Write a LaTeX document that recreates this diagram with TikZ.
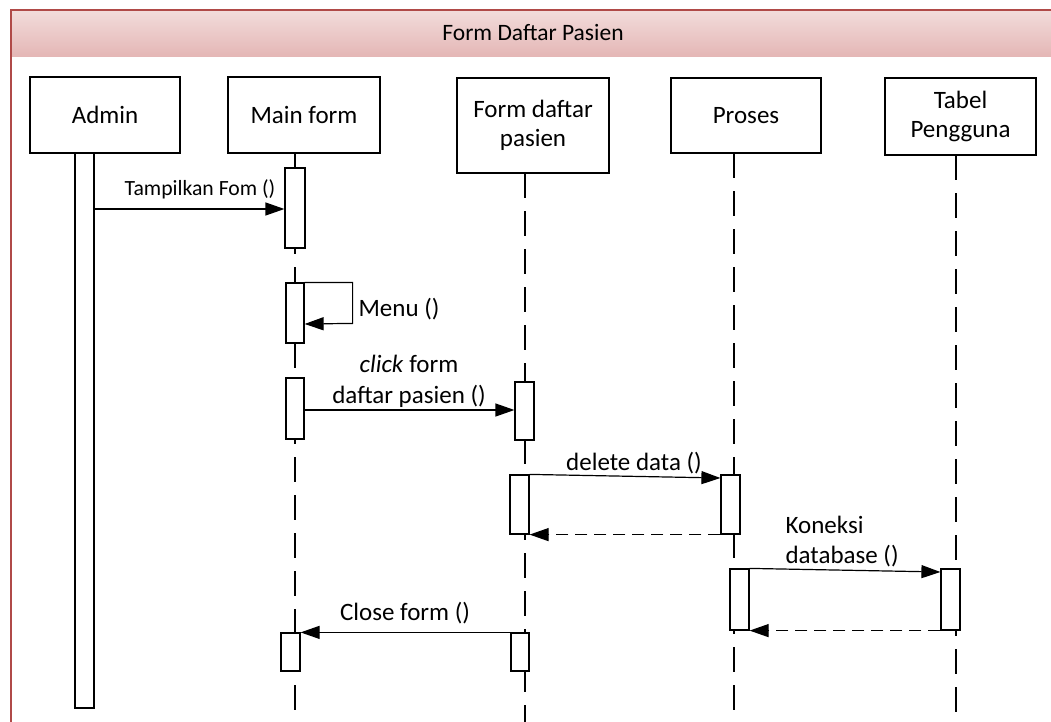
\documentclass[tikz,border=0pt]{standalone}
\usepackage{fontspec}
\setmainfont{Carlito}
\usetikzlibrary{arrows.meta}
\definecolor{barTop}{HTML}{F2DCDB}
\definecolor{barBot}{HTML}{E4B6B5}
\definecolor{frameRed}{HTML}{B04A48}
\begin{document}
\begin{tikzpicture}[x=1pt,y=-1pt,line width=1.2pt,
  obj/.style={draw,rectangle,inner sep=0pt,align=center,font=\fontsize{25}{29}\selectfont},
  bar/.style={draw,fill=white,rectangle,inner sep=0pt},
  life/.style={dash pattern=on 25pt off 13pt},
  msg/.style={-{Triangle[length=19pt,width=13pt]}},
  ret/.style={msg,dash pattern=on 12pt off 7pt},
  lbl/.style={font=\fontsize{25}{31}\selectfont,inner sep=0pt,align=center}]
\useasboundingbox (0,0) rectangle (1051,722);
% frame
\shade[top color=barTop,bottom color=barBot,draw=none] (11,10) rectangle (1051,57);
\draw[frameRed,line width=1.3pt] (11,722) -- (11,10) -- (1051,10);
\node[font=\fontsize{23.5}{27}\selectfont,inner sep=0pt] (title) at (533,33) {Form Daftar Pasien};
% objects
\node[obj,minimum width=150pt,minimum height=76pt] (admin) at (105,115) {Admin};
\node[obj,minimum width=152pt,minimum height=76pt] (main) at (304,115) {Main form};
\node[obj,minimum width=152pt,minimum height=95pt] (fdp) at (533,125.5) {Form daftar\\pasien};
\node[obj,minimum width=150pt,minimum height=75pt] (proses) at (746,115.5) {Proses};
\node[obj,minimum width=151pt,minimum height=77pt] (tabel) at (960.5,116.5) {Tabel\\Pengguna};
% lifelines
\coordinate (lmT) at (295,153); \coordinate (lmB) at (295,722);
\coordinate (lfT) at (525,173); \coordinate (lfB) at (525,722);
\coordinate (lpT) at (734,153); \coordinate (lpB) at (734,722);
\coordinate (ltT) at (956,155); \coordinate (ltB) at (956,722);
\draw[life] (lmT) -- (lmB);
\draw[life] (lfT) -- (lfB);
\draw[life] (lpT) -- (lpB);
\draw[life] (ltT) -- (ltB);
% activation bars
\node[bar,minimum width=19pt,minimum height=555pt] (ab) at (84.5,430.5) {};
\node[bar,minimum width=20pt,minimum height=80pt] (mb1) at (295,208) {};
\node[bar,minimum width=18pt,minimum height=60pt] (mb2) at (295,313) {};
\node[bar,minimum width=18pt,minimum height=61pt] (mb3) at (295,408.5) {};
\node[bar,minimum width=19pt,minimum height=38pt] (mb4) at (290.5,652) {};
\node[bar,minimum width=19pt,minimum height=58pt] (fb1) at (524.5,411) {};
\node[bar,minimum width=19pt,minimum height=59pt] (fb2) at (519.5,504.5) {};
\node[bar,minimum width=18pt,minimum height=38pt] (fb3) at (520,652) {};
\node[bar,minimum width=19pt,minimum height=59pt] (pb1) at (730.5,504.5) {};
\node[bar,minimum width=19pt,minimum height=61pt] (pb2) at (739.5,599.5) {};
\node[bar,minimum width=19pt,minimum height=61pt] (tb1) at (950.5,599.5) {};
% message heights
\coordinate (m1) at (0,209);
\coordinate (m2) at (0,324);
\coordinate (m3) at (0,410);
\coordinate (m4) at (0,478);
\coordinate (m6) at (0,572);
% messages
\draw[msg] (ab.east |- m1) -- (mb1.west |- m1);
\draw[msg] (mb2.north east) -- ++(48,0) -- ++(0,41) -- (mb2.east |- m2);
\draw[msg] (mb3.east |- m3) -- (fb1.west |- m3);
\draw[msg] (fb2.north east) -- (pb1.west |- m4);
\draw[ret] (pb1.south west) -- (fb2.south east);
\draw[msg] (pb2.north east) -- (tb1.west |- m6);
\draw[ret] (tb1.south west) -- (pb2.south east);
\draw[msg] (fb3.north west) -- (mb4.north east);
% labels
\node[lbl,font=\fontsize{21.7}{25}\selectfont] (l1) at (200,189) {Tampilkan Fom ()};
\node[lbl,anchor=west] (l2) at (358,309) {Menu ()};
\node[lbl] (l3) at (409,381.5) {\textit{click} form\\daftar pasien ()};
\node[lbl] (l4) at (634,463) {delete data ()};
\node[lbl,anchor=west,align=left,font=\fontsize{25}{30}\selectfont] (l6) at (785,542) {Koneksi\\database ()};
\node[lbl] (l8) at (405,613) {Close form ()};
\end{tikzpicture}
\end{document}
